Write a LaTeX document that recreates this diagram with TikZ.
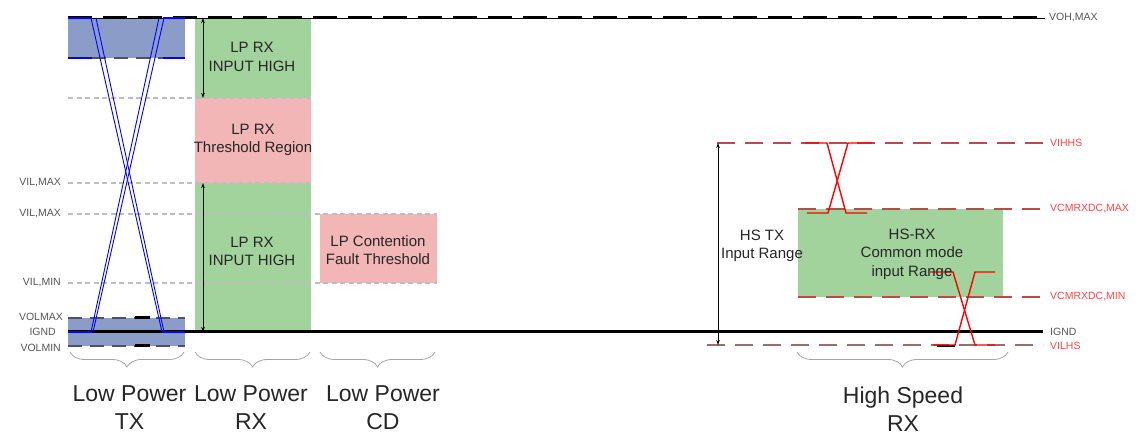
\documentclass[tikz,border=0pt]{standalone}
\usepackage{fontspec}
\setmainfont{Liberation Sans}
\usetikzlibrary{decorations.pathreplacing,arrows.meta}
\definecolor{bluefill}{RGB}{139,156,200}
\definecolor{greenfill}{RGB}{163,211,156}
\definecolor{pinkfill}{RGB}{242,182,182}
\definecolor{lightgraydash}{RGB}{190,190,190}
\definecolor{labelgray}{RGB}{85,85,85}
\definecolor{hsdash}{RGB}{185,75,75}
\definecolor{vildash}{RGB}{150,110,110}
\definecolor{redlabel}{RGB}{255,70,70}
\definecolor{bracegray}{RGB}{165,165,165}
\definecolor{boxdash}{RGB}{80,80,100}
\begin{document}
\begin{tikzpicture}[x=1pt,y=-1pt,
  graydash/.style={lightgraydash,line width=1.3pt,dash pattern=on 5pt off 3.5pt},
  hsline/.style={hsdash,line width=1.4pt,dash pattern=on 18pt off 10pt},
  villine/.style={vildash,line width=1.6pt,dash pattern=on 18pt off 10pt},
  boxedge/.style={boxdash,line width=1.4pt,dash pattern=on 14pt off 8pt},
  blueline/.style={blue,line width=0.9pt},
  bluebar/.style={blue,line width=2pt},
  redx/.style={red,line width=1.4pt},
  dim/.style={black,line width=1pt,{Stealth[length=5pt,width=3.5pt]}-{Stealth[length=5pt,width=3.5pt]}},
  leftlab/.style={anchor=east,text=labelgray,font=\fontsize{10.5}{12}\selectfont,inner sep=0pt},
  rightlab/.style={anchor=west,text=redlabel,font=\fontsize{10.5}{12}\selectfont,inner sep=0pt},
  boxtext/.style={align=center,font=\fontsize{15}{18.5}\selectfont,text=black!85,inner sep=0pt},
  bottomtext/.style={align=center,font=\fontsize{23}{28}\selectfont,text=black!85,inner sep=0pt},
  bracestyle/.style={bracegray,line width=0.8pt,decorate,decoration={brace,mirror,amplitude=15pt}}
]
\useasboundingbox (0,0) rectangle (1141,435);

% coordinates
\coordinate (topL) at (68,18);
\coordinate (topR) at (1045,18);
\coordinate (gndL) at (68,332);
\coordinate (gndR) at (1043,332);

% fills
\fill[bluefill] (68,18) rectangle (185,58);
\fill[bluefill] (68,318) rectangle (185,346);
\fill[greenfill] (195,18) rectangle (311,98);
\fill[pinkfill] (195,98) rectangle (311,183);
\fill[greenfill] (195,183) rectangle (311,332);
\fill[pinkfill] (320,214) rectangle (437,283);
\fill[greenfill] (798,209) rectangle (1003,297);

% gray dashed levels
\draw[graydash] (68,98) -- (311,98);
\draw[graydash] (68,183) -- (311,183);
\draw[graydash] (68,214) -- (437,214);
\draw[graydash] (68,283) -- (437,283);

% TX box edges
\draw[boxedge] (92,58) -- (163,58);
\draw[boxedge] (68,318) -- (185,318);
\draw[boxedge] (68,346) -- (185,346);
\draw[black,line width=3pt] (135,318) -- (150,318);
\draw[black,line width=3pt] (135,346) -- (150,346);

% top level line VOH,MAX
\draw[black,line width=0.8pt] (topL) -- (topR);
\draw[black,line width=3pt,dash pattern=on 24pt off 11pt] (topL) -- (topR);

% IGND line
\draw[black,line width=3pt] (gndL) -- (gndR);

% blue TX transitions
\draw[bluebar] (68,18) -- (92,18);
\draw[bluebar] (163,18) -- (185,18);
\draw[bluebar] (68,58) -- (92,58);
\draw[bluebar] (163,58) -- (185,58);
\draw[blueline] (91,18) -- (162,332);
\draw[blueline] (96,18) -- (164,332);
\draw[blueline] (164,18) -- (93,332);
\draw[blueline] (159,18) -- (91,332);
\draw[bluebar] (68,332) -- (92,332);
\draw[bluebar] (163,332) -- (185,332);

% LP RX dimension arrows
\coordinate (a1t) at (203,18);
\coordinate (a1b) at (203,98);
\coordinate (a2t) at (203,183);
\coordinate (a2b) at (203,332);
\draw[dim] (a1t) -- (a1b);
\draw[dim] (a2t) -- (a2b);

% box texts
\node[boxtext] (lphi1) at (252,57) {LP RX\\INPUT HIGH};
\node[boxtext] (lpthr) at (253,140) {LP RX\\Threshold Region};
\node[boxtext] (lphi2) at (252,251.5) {LP RX\\INPUT HIGH};
\node[boxtext] (lpcd) at (378,250) {LP Contention\\Fault Threshold};

% left labels
\node[leftlab] (vilmax1) at (61,183) {VIL,MAX};
\node[leftlab] (vilmax2) at (61,214) {VIL,MAX};
\node[leftlab] (vilmin) at (61,283) {VIL,MIN};
\node[leftlab] (volmax) at (63,317) {VOLMAX};
\node[leftlab] (ignd1) at (56,332) {IGND};
\node[leftlab] (volmin) at (61,348) {VOLMIN};

% HS lines
\draw[hsline] (717,143) -- (1043,143);
\draw[hsline] (798,209) -- (1043,209);
\draw[hsline] (798,297) -- (1043,297);
\draw[villine] (707,345) -- (1043,345);
\draw[black,line width=2.6pt] (937,346) -- (955,346);

% HS dimension arrow
\coordinate (hst) at (718,143);
\coordinate (hsb) at (718,345);
\draw[dim] (hst) -- (hsb);

% red crossings
\draw[redx] (805,143) -- (827,143) -- (846,213) -- (867,213);
\draw[redx] (807,213) -- (828,213) -- (848,143) -- (872,143);
\draw[redx] (930,272) -- (953,272) -- (975,345) -- (995,345);
\draw[redx] (933,345) -- (955,345) -- (975,272) -- (995,272);

% HS texts
\node[boxtext] (hstx) at (762,246) {HS TX\\Input Range};
\node[boxtext] (hsrx) at (912,254) {HS-RX\\Common mode\\input Range};

% right labels
\node[rightlab,text=labelgray] (vohmax) at (1049,18) {VOH,MAX};
\node[rightlab] (vihhs) at (1050,143) {VIHHS};
\node[rightlab] (vcmmax) at (1050,209) {VCMRXDC,MAX};
\node[rightlab] (vcmmin) at (1050,297) {VCMRXDC,MIN};
\node[rightlab,text=labelgray] (ignd2) at (1050,332) {IGND};
\node[rightlab] (vilhs) at (1050,346) {VILHS};

% braces
\coordinate (b1l) at (70,352); \coordinate (b1r) at (184,352);
\coordinate (b2l) at (195,352); \coordinate (b2r) at (310,352);
\coordinate (b3l) at (320,352); \coordinate (b3r) at (435,352);
\coordinate (b4l) at (797,352); \coordinate (b4r) at (1008,352);
\draw[bracestyle] (b1l) -- (b1r);
\draw[bracestyle] (b2l) -- (b2r);
\draw[bracestyle] (b3l) -- (b3r);
\draw[bracestyle] (b4l) -- (b4r);

% bottom labels
\node[bottomtext] (lptx) at (129.5,408) {Low Power\\TX};
\node[bottomtext] (lprx) at (251,408) {Low Power\\RX};
\node[bottomtext] (lpcdl) at (383,408) {Low Power\\CD};
\node[bottomtext] (hsrxl) at (903,409) {High Speed\\RX};
\end{tikzpicture}
\end{document}
